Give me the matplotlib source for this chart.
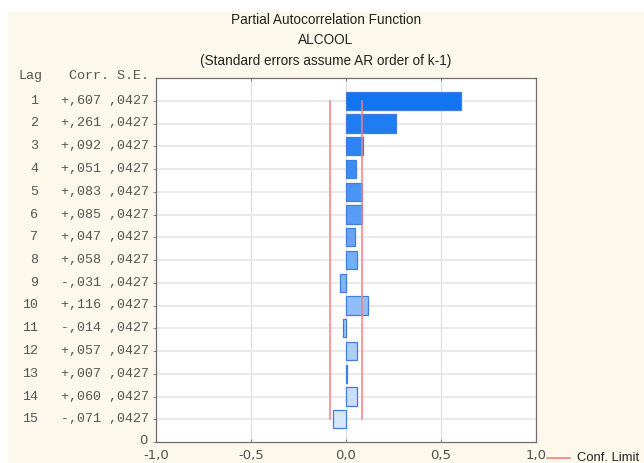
import matplotlib.pyplot as plt
import matplotlib.transforms as mtransforms
from matplotlib.patches import Rectangle
from matplotlib.colors import to_rgb
import numpy as np

lags = list(range(1, 16))
corr = [0.607, 0.261, 0.092, 0.051, 0.083, 0.085, 0.047, 0.058,
        -0.031, 0.116, -0.014, 0.057, 0.007, 0.060, -0.071]
se = [0.0427] * 15
titre = ["Partial Autocorrelation Function", "ALCOOL",
         "(Standard errors assume AR order of k-1)"]

W, H = 644, 463
fig = plt.figure(figsize=(W / 100, H / 100), dpi=100, facecolor="white")

# fond crème
fig.patches.append(Rectangle((8 / W, 0), 1 - 8 / W, 1 - 12 / H,
                             transform=fig.transFigure, facecolor="#fdf8ec",
                             edgecolor="none", zorder=-5))

ax = fig.add_axes([156 / W, 1 - 442 / H, 380 / W, 364 / H])
ax.set_zorder(2)
ax.set_facecolor("white")

# dégradé du bleu foncé au bleu pâle
c1, c2 = np.array(to_rgb("#1274f0")), np.array(to_rgb("#d6e7fc"))
couleurs = [tuple(c1 + (c2 - c1) * i / 14) for i in range(15)]
ax.barh(lags, corr, height=0.8, color=couleurs, edgecolor="#3f7ee0",
        linewidth=0.9, zorder=3)

# limites de confiance (2 * S.E.)
lim = 2 * se[0]
ax.plot([-lim, -lim], [lags[0], lags[-1]], color="#f47f7f", lw=1.1, zorder=4)
ax.plot([lim, lim], [lags[0], lags[-1]], color="#f47f7f", lw=1.1, zorder=4)

ax.set_xlim(-1, 1)
ax.set_ylim(16, 0)
ax.set_xticks([-1, -0.5, 0, 0.5, 1])
ax.set_xticklabels(["-1,0", "-0,5", "0,0", "0,5", "1,0"])
ax.set_yticks(lags + [16])
ax.set_yticklabels([""] * 15 + ["0"])
for v in [-0.5, 0, 0.5]:
    ax.axvline(v, color="#dcdcdc", lw=0.8, zorder=1)
for l in lags:
    ax.axhline(l, color="#e6e6e6", lw=1.2, zorder=1)
ax.tick_params(axis="both", colors="#707070", labelcolor="#505050",
               labelsize=9.5, length=2, width=0.6)
ax.tick_params(axis="x", top=True, direction="in", pad=5)
ax.tick_params(axis="y", direction="out", pad=4)
zero = ax.get_yticklabels()[-1]
zero.set_transform(zero.get_transform()
                   + mtransforms.ScaledTranslation(0, 3 / 100, fig.dpi_scale_trans))
for s in ax.spines.values():
    s.set_color("#6e6e6e")
    s.set_linewidth(0.9)

# titre
for i, t in enumerate(titre):
    fig.text(326 / W, 1 - (20 + i * 20.5) / H, t, ha="center", va="center",
             fontsize=9.8, family="Liberation Sans", color="#222222")

# tableau des valeurs
tr = mtransforms.blended_transform_factory(fig.transFigure, ax.transData)
mono = dict(family="Liberation Mono", fontsize=9.6, color="#555555", va="center")
fig.text(19 / W, 1 - 76 / H, "Lag", **mono)
fig.text(149 / W, 1 - 76 / H, "Corr. S.E.", ha="right", **mono)
for l, c, s in zip(lags, corr, se):
    signe = "+" if c >= 0 else "-"
    ax.text(38 / W, l, str(l), transform=tr, ha="right", clip_on=False, **mono)
    txt = f"{signe}{abs(c):.3f}".replace("0.", ",") + " " + f"{s:.4f}".replace("0.", ",")
    ax.text(149 / W, l, txt, transform=tr, ha="right", clip_on=False, **mono)

# légende
fig.lines.append(plt.Line2D([547 / W, 570 / W], [1 - 458 / H] * 2,
                            transform=fig.transFigure, color="#f47f7f", lw=1.2))
fig.text(577 / W, 1 - 458 / H, "Conf. Limit", ha="left", va="center",
         fontsize=9.4, family="Liberation Sans", color="#222222")

fig.savefig("out.png", dpi=100, facecolor=fig.get_facecolor())
